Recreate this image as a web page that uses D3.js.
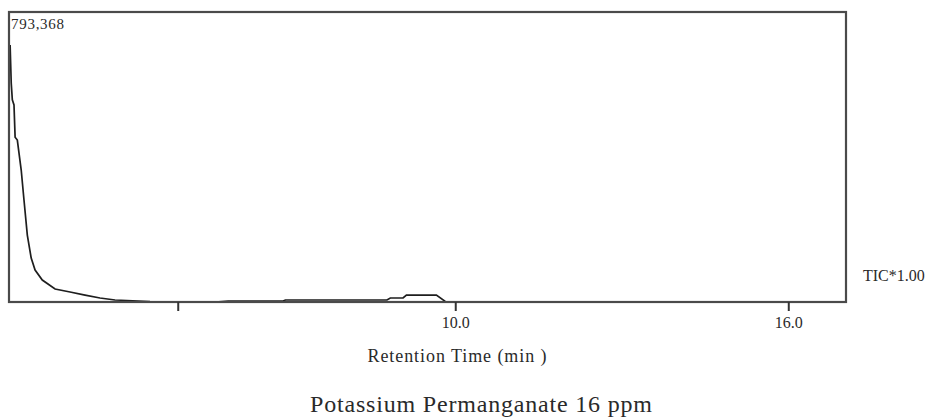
<!DOCTYPE html>
<html>
<head>
<meta charset="utf-8">
<script src="https://cdn.jsdelivr.net/npm/d3@7"></script>
<style>
  body { margin: 0; background: #fff; }
  svg { display: block; }
  text { font-family: "Liberation Serif", "DejaVu Serif", serif; fill: #2a2a2a; }
</style>
</head>
<body>
<svg id="chart"></svg>
<script>
"use strict";

// chromatogram trace (minutes, counts)
var retentionTime = [1.98, 2.00, 2.02, 2.05, 2.07, 2.11, 2.18, 2.23, 2.29, 2.36, 2.43, 2.56, 2.79, 3.06,
  3.33, 3.60, 3.87, 4.50, 5.68, 5.91, 6.90, 6.94, 8.77, 8.83, 9.06, 9.12, 9.66, 9.82, 10.27, 17.04];
var intensity = [703000, 599000, 553000, 539000, 451000, 443000, 361000, 279000, 183000, 120000, 87500, 60000, 35500, 27400,
  19000, 11000, 5500, 1400, 0, 2700, 2700, 5500, 5500, 11000, 11000, 19000, 19000, 1400, 0, 0];

var tickValues = [5, 10, 16]
  , tickLabels = ["", "10.0", "16.0"];

var fullScale = 793368
  , timeDomain = [1.96, 17.04];

var width = 931
  , height = 417
  , plotLeft = 9
  , plotRight = 846
  , plotTop = 12
  , plotBottom = 302;

var svg = d3.select("#chart")
  .attr("width", width)
  .attr("height", height);

var x = d3.scaleLinear().domain(timeDomain).range([plotLeft, plotRight]);
var y = d3.scaleLinear().domain([0, fullScale]).range([plotBottom, plotTop]);

var points = retentionTime.map(function (t, i) { return [t, intensity[i]]; });

var line = d3.line()
  .x(function (d) { return x(d[0]); })
  .y(function (d) { return y(d[1]); });

// trace
svg.append("path")
  .datum(points)
  .attr("fill", "none")
  .attr("stroke", "#1e1e1e")
  .attr("stroke-width", 1.7)
  .attr("d", line);

// frame
svg.append("rect")
  .attr("x", plotLeft)
  .attr("y", plotTop)
  .attr("width", plotRight - plotLeft)
  .attr("height", plotBottom - plotTop)
  .attr("fill", "none")
  .attr("stroke", "#4a4a4a")
  .attr("stroke-width", 2.2);

// x axis, ticks hang below the frame
var xAxis = d3.axisBottom(x)
  .tickValues(tickValues)
  .tickSize(9)
  .tickPadding(6)
  .tickFormat(function (d, i) { return tickLabels[i]; });

var axisG = svg.append("g")
  .attr("transform", "translate(0," + plotBottom + ")")
  .call(xAxis);

axisG.select(".domain").remove();
axisG.selectAll(".tick line").attr("stroke", "#333").attr("stroke-width", 2);
axisG.selectAll(".tick text")
  .style("font-family", "Liberation Serif, serif")
  .style("font-size", "16px")
  .attr("fill", "#2a2a2a");

// labels
svg.append("text")
  .attr("x", plotLeft + 2)
  .attr("y", 29)
  .attr("textLength", 53)
  .style("font-size", "15px")
  .text("793,368");

svg.append("text")
  .attr("x", 863)
  .attr("y", 281)
  .style("font-size", "16px")
  .text("TIC*1.00");

svg.append("text")
  .attr("x", 457)
  .attr("y", 362)
  .attr("text-anchor", "middle")
  .attr("textLength", 179)
  .style("font-size", "18px")
  .text("Retention Time (min )");

svg.append("text")
  .attr("x", 481)
  .attr("y", 412)
  .attr("text-anchor", "middle")
  .attr("textLength", 342)
  .style("font-size", "24px")
  .text("Potassium Permanganate 16 ppm");
</script>
</body>
</html>
